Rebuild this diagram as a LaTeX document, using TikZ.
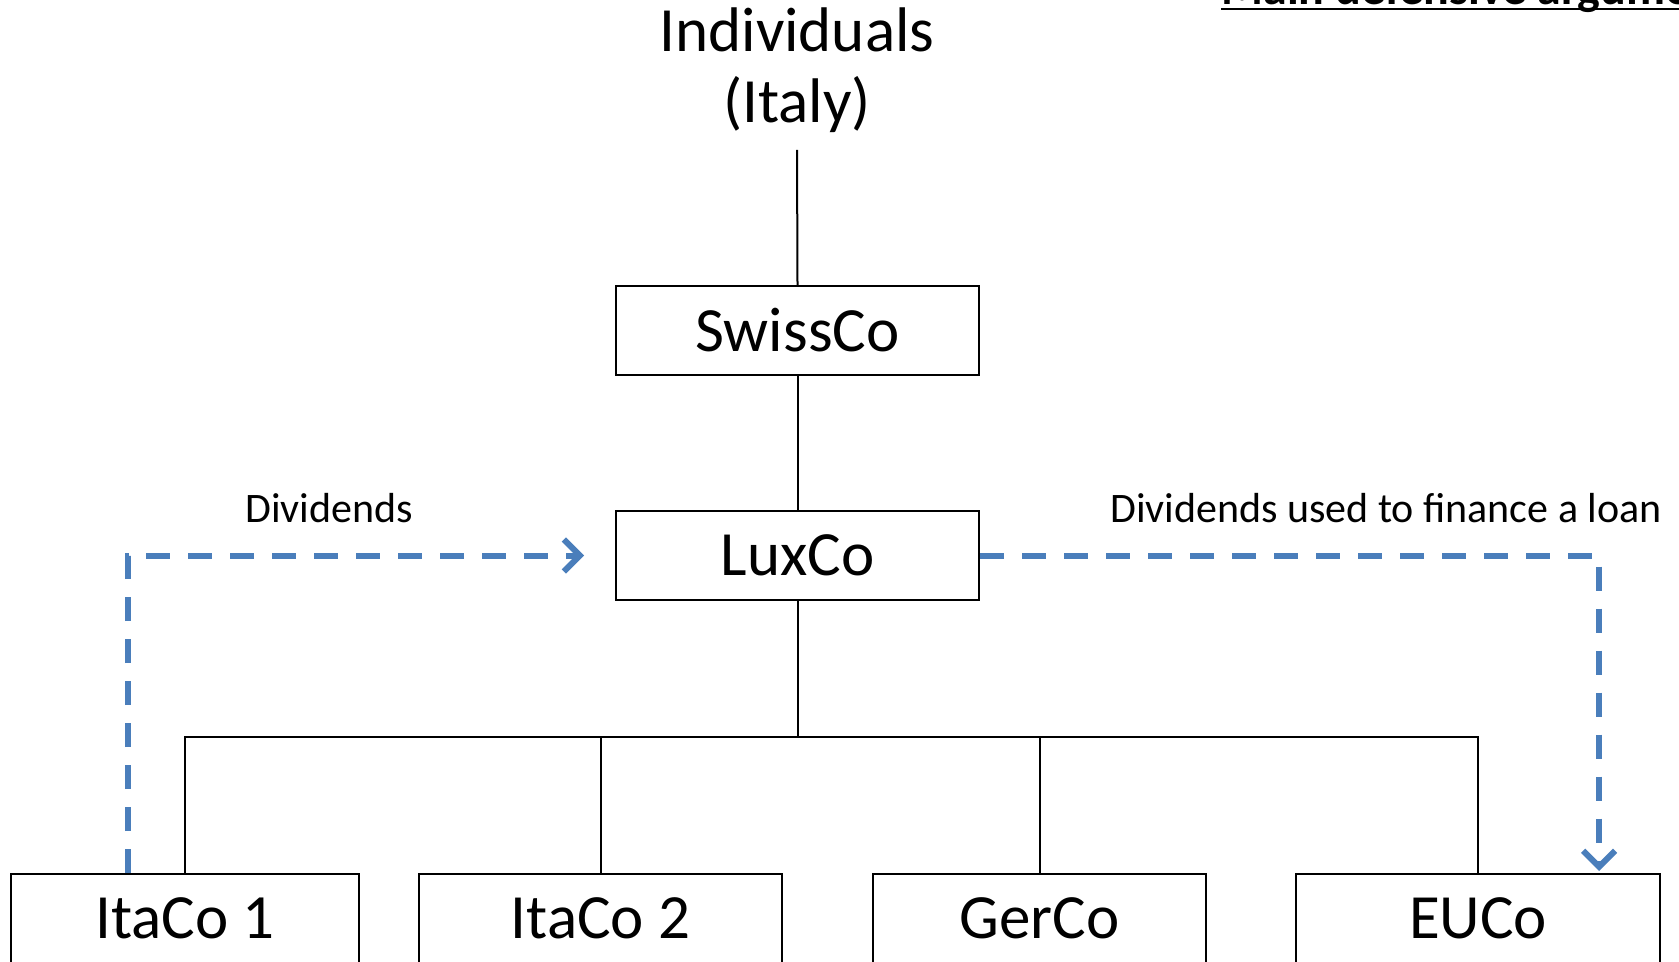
\documentclass[tikz,border=0pt]{standalone}
\usepackage{fontspec}
\setmainfont{Carlito}
\usetikzlibrary{arrows.meta}
\definecolor{flowblue}{HTML}{4A7EBB}
\begin{document}
\begin{tikzpicture}[x=0.5pt,y=-0.5pt,
  box/.style={draw=black, line width=1pt, inner sep=0pt, minimum height=44.5pt, font=\fontsize{31.5}{31.5}\selectfont},
  tree/.style={draw=black, line width=1pt},
  flow/.style={draw=flowblue, line width=3pt, dash pattern=on 12pt off 9pt,
    -{Straight Barb[length=8pt,width=16pt,line width=3pt]}},
  lbl/.style={inner sep=0pt, font=\fontsize{21}{21}\selectfont}]
\useasboundingbox (0,0) rectangle (1679,962);
\clip (0,0) rectangle (1679,962);

\node[align=center, inner sep=0pt, font=\fontsize{31.5}{35.75}\selectfont] (indiv) at (797,70) {Individuals\\(Italy)};
\coordinate (indbot) at (797,150);

\node[box, minimum width=181.5pt] (swiss) at (797.5,330.5) {SwissCo};
\node[box, minimum width=181.5pt] (lux) at (797.5,555.5) {LuxCo};

\node[box, minimum width=174pt] (ita1) at (185,918.5) {ItaCo 1};
\node[box, minimum width=181.5pt] (ita2) at (600.5,918.5) {ItaCo 2};
\node[box, minimum width=166.5pt] (ger) at (1039.5,918.5) {GerCo};
\node[box, minimum width=182pt] (eu) at (1478,918.5) {EUCo};

\coordinate (bar) at (797.5,737);

\draw[tree] (indbot) -- (swiss.north);
\draw[tree] (swiss.south) -- (lux.north);
\draw[tree] (lux.south) -- (bar);
\draw[tree] (ita1.north) -- (ita1.north |- bar) -- (eu.north |- bar) -- (eu.north);
\draw[tree] (ita2.north) -- (ita2.north |- bar);
\draw[tree] (ger.north) -- (ger.north |- bar);

\draw[flow] ([xshift=58.75pt]ita1.north west) |- ([xshift=-15.5pt]lux.west);
\draw[flow] (lux.east) -| ([xshift=60.5pt,yshift=1pt]eu.north);

\node[lbl] (lbl1) at (329,508) {Dividends};
\node[lbl] (lbl2) at (1386,508) {Dividends used to finance a loan};

\node[anchor=base west, inner sep=0pt, font=\fontsize{24}{24}\selectfont\bfseries] (title) at (1221,5) {Main defensive arguments};
\draw[line width=1pt] ([yshift=-2.25pt]title.base west) -- ([yshift=-2.25pt]title.base east);
\end{tikzpicture}
\end{document}
